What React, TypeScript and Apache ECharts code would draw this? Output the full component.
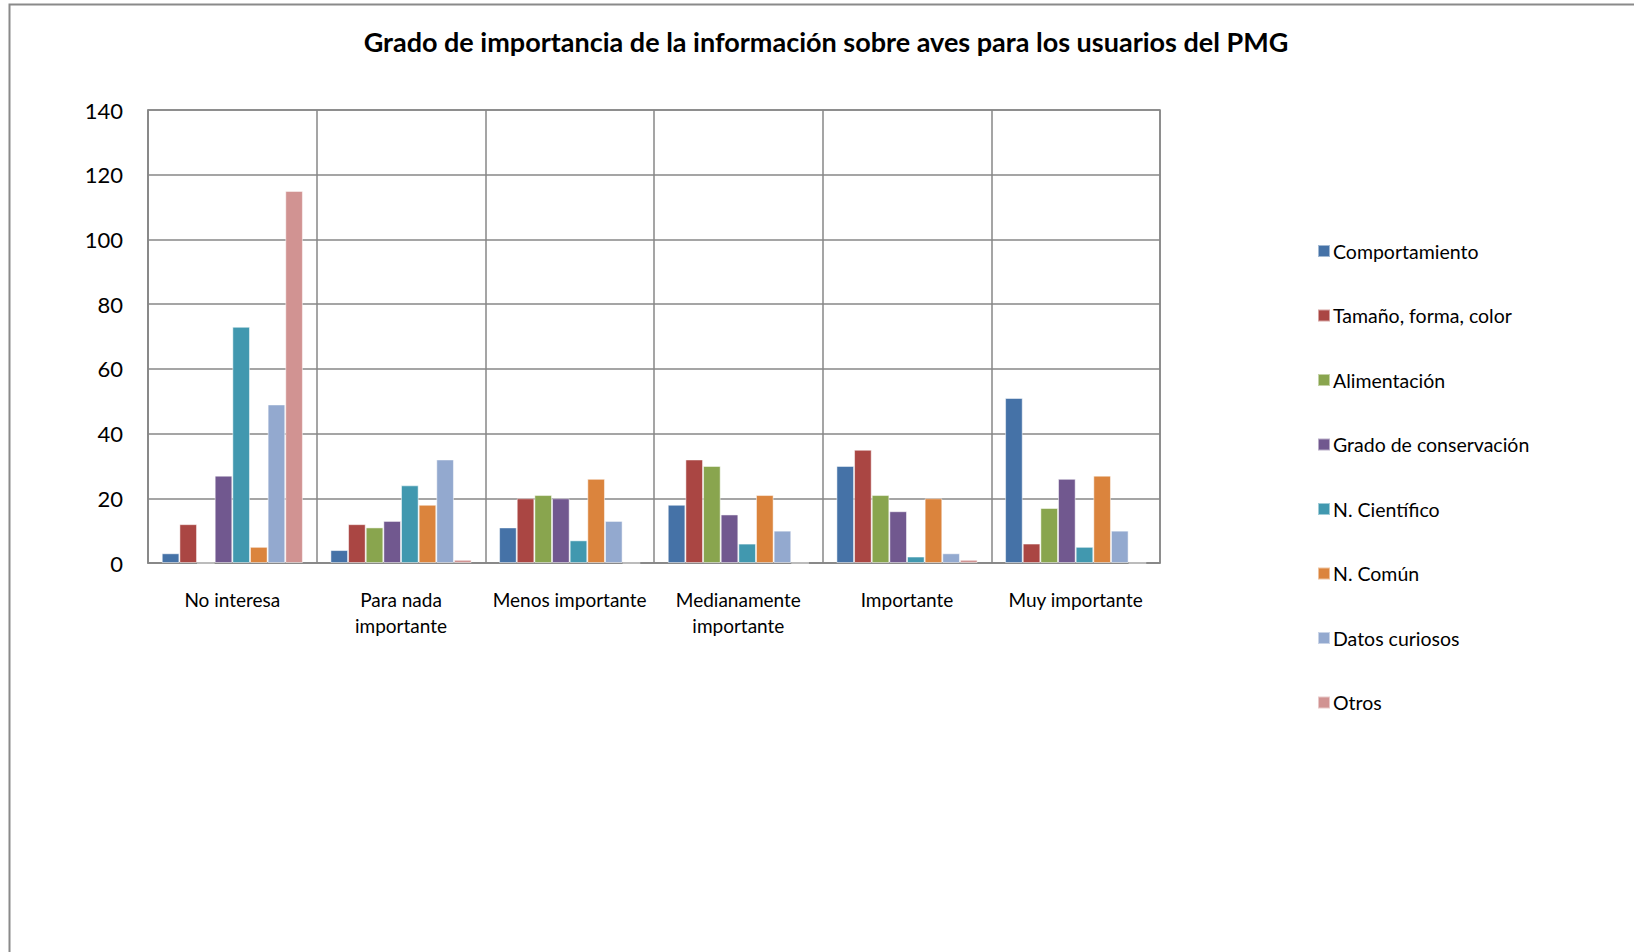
import React, { useEffect, useRef } from "react";
import * as echarts from "echarts";

const categories = [
  "No interesa",
  "Para nada\nimportante",
  "Menos importante",
  "Medianamente\nimportante",
  "Importante",
  "Muy importante",
];

const seriesNames = [
  "Comportamiento",
  "Tamaño, forma, color",
  "Alimentación",
  "Grado de conservación",
  "N. Científico",
  "N. Común",
  "Datos curiosos",
  "Otros",
];

const comportamiento = [3, 4, 11, 18, 30, 51];
const tamano = [12, 12, 20, 32, 35, 6];
const alimentacion = [0, 11, 21, 30, 21, 17];
const conservacion = [27, 13, 20, 15, 16, 26];
const cientifico = [73, 24, 7, 6, 2, 5];
const comun = [5, 18, 26, 21, 20, 27];
const curiosos = [49, 32, 13, 10, 3, 10];
const otros = [115, 1, 0, 0, 1, 0];

const seriesValues = [comportamiento, tamano, alimentacion, conservacion, cientifico, comun, curiosos, otros];

const colors = ["#4572A7", "#AA4643", "#89A54E", "#71588F", "#4198AF", "#DB843D", "#93A9CF", "#D19392"];

const titleText = "Grado de importancia de la información sobre aves para los usuarios del PMG";

const FONT = "Lato, 'Noto Sans', sans-serif";

export default function App() {
  const ref = useRef<HTMLDivElement>(null);
  useEffect(() => {
    document.body.style.margin = "0";
    if (!ref.current) return;
    const chart = echarts.init(ref.current, undefined, { renderer: "svg" });
    chart.setOption({
      animation: false,
      color: colors,
      textStyle: { fontFamily: FONT },
      grid: {
        left: 148,
        top: 110,
        width: 1012,
        height: 453,
        show: true,
        borderColor: "#878787",
        borderWidth: 1.5,
      },
      graphic: [
        {
          type: "rect",
          shape: { x: 9.5, y: 4.5, width: 3000, height: 3000 },
          style: { fill: "none", stroke: "#8a8a8a", lineWidth: 2 },
          silent: true,
        },
        {
          type: "text",
          x: 826,
          y: 41,
          style: {
            text: titleText,
            fontFamily: FONT,
            fontWeight: "bold",
            fontSize: 27,
            fill: "#000",
            align: "center",
            verticalAlign: "middle",
          },
        },
      ],
      legend: {
        orient: "vertical",
        left: 1317,
        top: 241,
        padding: 0,
        itemWidth: 12,
        itemHeight: 12,
        itemGap: 44.5,
        icon: "rect",
        data: seriesNames,
        textStyle: { fontFamily: FONT, fontSize: 19.5, color: "#000", lineHeight: 20, padding: [0, 0, 0, -2] },
      },
      xAxis: {
        type: "category",
        data: categories,
        axisLine: { show: true, lineStyle: { color: "#878787", width: 1.5 } },
        axisTick: { show: false },
        splitLine: { show: true, lineStyle: { color: "#878787", width: 1.5 } },
        axisLabel: {
          color: "#000",
          fontFamily: FONT,
          fontSize: 19,
          lineHeight: 26,
          margin: 23,
          interval: 0,
        },
      },
      yAxis: {
        type: "value",
        min: 0,
        max: 140,
        interval: 20,
        axisLine: { show: true, lineStyle: { color: "#878787", width: 1.5 } },
        axisTick: { show: false },
        splitLine: { show: true, lineStyle: { color: "#878787", width: 1.5 } },
        axisLabel: { color: "#000", fontFamily: FONT, fontSize: 22, margin: 25 },
      },
      series: seriesNames.map((name, i) => ({
        name,
        type: "bar",
        data: seriesValues[i],
        barGap: "0%",
        barCategoryGap: "16.3%",
        itemStyle: { borderColor: "rgba(255,255,255,0.5)", borderWidth: 1 },
      })),
    });
    return () => chart.dispose();
  }, []);
  return <div ref={ref} style={{ width: 1634, height: 952 }} />;
}
